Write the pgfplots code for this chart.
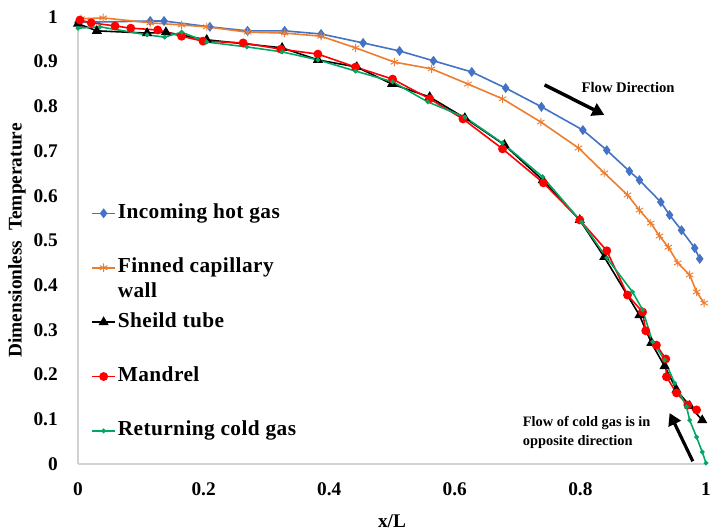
\documentclass[border=0pt]{standalone}
\usepackage{pgfplots}
\pgfplotsset{compat=1.18}
\usepackage{fontspec}
\setmainfont{Liberation Serif}
\usetikzlibrary{arrows.meta}
\definecolor{cblue}{RGB}{68,114,196}
\definecolor{corange}{RGB}{237,125,49}
\definecolor{cred}{RGB}{255,0,0}
\definecolor{cgreen}{RGB}{0,168,100}
\begin{document}
\begin{tikzpicture}
\begin{axis}[
  scale only axis, width=471pt, height=335.25pt,
  xmin=0, xmax=1, ymin=0, ymax=1,
  axis x line=bottom, axis y line=left,
  axis line style={-, draw=gray!35, line width=0.8pt},
  major tick length=0pt,
  xtick={0,0.2,0.4,0.6,0.8,1},
  ytick={0,0.1,0.2,0.3,0.4,0.5,0.6,0.7,0.8,0.9,1},
  /pgf/number format/fixed, /pgf/number format/precision=1,
  /pgf/number format/assume math mode=true,
  ticklabel style={font=\bfseries\fontsize{14.5}{16}\selectfont, inner sep=0pt},
  yticklabel style={xshift=-15pt},
  xticklabel style={yshift=-14pt},
  xlabel={x/L}, ylabel={Dimensionless\ \ Temperature},
  every axis x label/.style={at={(axis description cs:0.5,-0.128)}, anchor=center, font=\bfseries\fontsize{14.5}{16}\selectfont},
  every axis y label/.style={at={(axis description cs:-0.0971,0.5)}, anchor=center, rotate=90, font=\bfseries\fontsize{14.5}{16}\selectfont},
  clip=false,
  legend cell align=left,
  legend style={at={(axis description cs:0.021,0.586)}, anchor=north west, draw=none, fill=none,
    inner sep=0pt, row sep=24.3pt, font=\bfseries\fontsize{16}{18.8}\selectfont\addfontfeature{LetterSpace=2},
    nodes={inner sep=1.5pt, text height=10.5pt, text depth=3pt}},
]
\addplot[cblue, line width=1.2pt, mark=diamond*, mark size=2.8pt] coordinates {
(0.000,0.988) (0.115,0.991) (0.137,0.991) (0.210,0.978) (0.270,0.969) (0.329,0.969)
(0.387,0.962) (0.454,0.942) (0.512,0.924) (0.566,0.902) (0.627,0.877) (0.681,0.841)
(0.738,0.799) (0.804,0.747) (0.842,0.702) (0.878,0.655) (0.894,0.635) (0.928,0.586)
(0.942,0.557) (0.961,0.523) (0.982,0.483) (0.990,0.459)};
\addlegendentry{Incoming hot gas}
\addplot[corange, line width=1.2pt, mark=asterisk, mark size=3.2pt, mark options={line width=0.7pt}] coordinates {
(0.005,0.996) (0.040,0.998) (0.115,0.987) (0.165,0.982) (0.205,0.978) (0.270,0.966)
(0.329,0.964) (0.387,0.957) (0.442,0.931) (0.504,0.899) (0.563,0.884) (0.621,0.850)
(0.676,0.817) (0.737,0.765) (0.797,0.707) (0.838,0.651) (0.875,0.602) (0.894,0.568)
(0.912,0.539) (0.926,0.510) (0.940,0.485) (0.955,0.450) (0.974,0.423) (0.985,0.385)
(0.997,0.360)};
\addlegendentry{\raisebox{0pt}[\height][0pt]{\parbox[t]{122pt}{\raggedright Finned capillary wall}}}
\addplot[black, line width=1.2pt, mark=triangle*, mark size=3.2pt] coordinates {
(0.000,0.985) (0.030,0.969) (0.110,0.964) (0.140,0.966) (0.205,0.949) (0.325,0.931)
(0.382,0.904) (0.444,0.888) (0.500,0.850) (0.560,0.821) (0.616,0.774) (0.679,0.714)
(0.740,0.635) (0.799,0.546) (0.838,0.463) (0.894,0.333) (0.913,0.271) (0.934,0.219)
(0.953,0.166) (0.974,0.130) (0.994,0.098)};
\addlegendentry{Sheild tube}
\addplot[cred, line width=1.2pt, mark=*, mark size=2.7pt] coordinates {
(0.003,0.993) (0.021,0.987) (0.059,0.980) (0.084,0.975) (0.127,0.971) (0.165,0.957)
(0.199,0.946) (0.263,0.942) (0.323,0.928) (0.382,0.917) (0.442,0.888) (0.501,0.861)
(0.560,0.817) (0.613,0.772) (0.676,0.705) (0.741,0.629) (0.799,0.546) (0.842,0.477)
(0.875,0.378) (0.899,0.340) (0.904,0.298) (0.921,0.266) (0.936,0.235) (0.937,0.195)
(0.953,0.159) (0.971,0.132) (0.985,0.121)};
\addlegendentry{Mandrel}
\addplot[cgreen, line width=1.2pt, mark=*, mark size=1.1pt] coordinates {
(0.000,0.975) (0.035,0.978) (0.110,0.960) (0.138,0.955) (0.165,0.966) (0.205,0.944)
(0.269,0.933) (0.325,0.922) (0.382,0.904) (0.442,0.879) (0.501,0.855) (0.557,0.810)
(0.616,0.776) (0.676,0.718) (0.740,0.642) (0.802,0.541) (0.842,0.461) (0.883,0.385)
(0.899,0.345) (0.915,0.273) (0.934,0.233) (0.950,0.181) (0.969,0.128) (0.974,0.098)
(0.985,0.060) (0.994,0.027) (1.000,0.002)};
\addlegendentry{Returning cold gas}
\draw[line width=2.6pt, -{Triangle[length=9pt,width=10pt]}] (axis cs:0.743,0.848) -- (axis cs:0.838,0.781);
\node[font=\bfseries\fontsize{11}{13}\selectfont] at (axis cs:0.876,0.843) {Flow Direction};
\draw[line width=2.4pt, -{Triangle[length=9pt,width=10pt]}] (axis cs:0.979,0.006) -- (axis cs:0.942,0.114);
\node[font=\bfseries\fontsize{10.8}{14}\selectfont, align=left] at (axis cs:0.810,0.071) {Flow of cold gas is in\\opposite direction};
\end{axis}
\pgfresetboundingbox
\path[use as bounding box] (-58.5pt,-50.25pt) rectangle (479.25pt,348pt);
\end{tikzpicture}
\end{document}
